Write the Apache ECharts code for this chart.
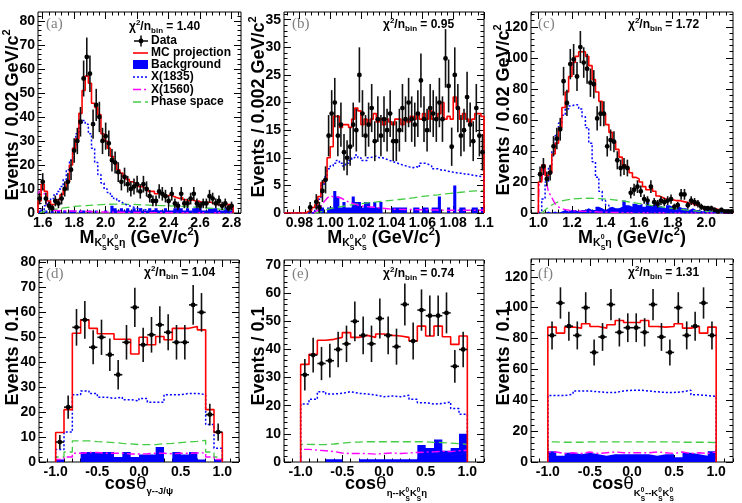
<!DOCTYPE html>
<html>
<head>
<meta charset="utf-8">
<script src="https://cdn.jsdelivr.net/npm/echarts@6.0.0/dist/echarts.min.js"></script>
<style>
  html, body { margin: 0; padding: 0; background: #fff; }
  #chart { width: 742px; height: 503px; }
</style>
</head>
<body>
<div id="chart"></div>
<script>
// ---- panel (a): M(KsKs eta), bins of 0.02 starting at 1.57
var aBinStart = 1.57, aBinWidth = 0.02;
var aData = [6,13,6,3,2,5,4,6,10,13, 18,26,30,38,56,65,58,37,45,40, 30,32,29,22,21,17,13,15,12,10,
             11,12,9,12,10,7,5,5,9,8, 7,5,8,4,3,8,4,4,6,8, 4,3,4,4,7,6,4,5,3,4, 2,3];
var aMC = [5,12,9,5,3.5,4,5.5,7.6,10,13, 20,27,31,41.5,51,57,54,45.7,44,41, 33,30,27,23.5,21,18,16.6,15,14,13,
           12.5,12,11,10.5,10,9,9,8,8.5,8, 7,7.5,7,6.5,6,6.5,5.5,5,5.5,5, 5,4.5,4,4.5,4.5,4,3.5,3.5,3,3.5, 3.5,3];
var aBkg = [1,0,1,0,1,0,1,0,1,0, 1,1,0,1,1,0,1,0,1,0, 0,1,0,3,2,1,2,1,2,1, 2,1,2,1,1,2,1,2,1,1,
            2,1,1,2,3,2,1,2,1,2, 3,3,1,1,2,2,2,1,1,2, 3,3];
var aX1835 = [0.5,1.5,3,4.5,6,7.5,9,11,14,18, 22,27,33,37.5,38.5,37,33,27,21,16, 12.5,10,8.5,7,6,5,4.2,3.5,3,2.6,
              2.2,1.9,1.6,1.4,1.2,1,0.9,0.8,0.8,0.7, 0.7,0.6,0.6,0.5,0.5,0.5,0.4,0.4,0.4,0.4,
              0.3,0.3,0.3,0.3,0.3,0.3,0.2,0.2,0.2,0.2, 0.2,0.2];
var aX1560 = [[1.57,8],[1.58,9],[1.60,10],[1.61,8],[1.62,5],[1.64,2],[1.66,1.2],[1.70,1],[1.80,0.8],
              [1.90,0.6],[2.00,0.4],[2.20,0.2],[2.50,0.1],[2.80,0.1]];
var aPS = [[1.57,0],[1.60,0.5],[1.65,1.2],[1.70,1.8],[1.76,2.3],[1.80,2.7],[1.90,3.2],[2.00,3.6],[2.10,3.7],
           [2.20,3.5],[2.30,3.2],[2.40,3.0],[2.50,2.7],[2.60,2.3],[2.70,1.8],[2.80,1.2]];
var aTicksX = [1.6,1.8,2.0,2.2,2.4,2.6,2.8];
var aTicksY = [0,10,20,30,40,50,60,70,80];

// ---- panel (b): M(KsKs), bins of 0.002 starting at 0.970
var bBinStart = 0.970, bBinWidth = 0.002;
var bData = [0,0,0,0,0,0,0,0,1,0, 2,1,4,6,14,18,20,14,16,11, 10,12,16,15,25,18,14,16,19,13,
             17,14,17,15,18,13,13,15,19,17, 20,17,16,18,24,17,15,19,18,17, 20,17,28,23,12,25,19,14,15,21,
             16,13,19,14,11];
var bMC = [0,0,0,0,0,0,0,0.3,0.5,1, 1.5,3,5.5,6,10,12,17.5,17.5,15.5,16, 16,15.5,17,19,18.5,16,17,16,17,18,
           16.5,17,16,17,16.5,16,17,17,16,17, 16.5,17.5,17,18,17,18,17,18.5,17,17, 18,20,17,17.5,17,21,19,17,18,17,
           16.5,17,18,18,17.5];
var bBkg = [0,0,0,0,0,0,0,0,0,0, 0,1,1,0,1,1,4,3,1,2, 1,1,3,2,2,1,2,2,1,2, 1,2,0,0,0,1,1,1,1,1,
            0,0,1,1,0,1,1,0,1,1, 3,0,0,1,0,5,0,1,1,0, 0,1,1,0,1];
var bX1835 = [0,0,0,0,0,0,0,0,0,0, 1,2.5,5,6.5,8,8.5,9,9.5,9,8.5, 9,9.5,10,10.5,10,9.5,9.5,10,10.2,10.3,
              10,10,9.8,9.6,9.4,9.2,9,8.8,8.6,8.5, 8.3,8.2,8.4,8.2,9,9,8.8,8.5,8,8, 7.8,7.8,7.6,7.5,7.4,7.3,7.2,7.2,7,7,
              6.9,6.8,6.7,6.6,6.5];
var bX1560 = [[0.988,0],[0.992,0.5],[0.996,2],[1.000,3],[1.006,2.8],[1.012,2],[1.020,1.3],[1.030,1],
              [1.040,0.7],[1.060,0.6],[1.080,0.5],[1.100,0.5]];
var bPS = [[0.990,0],[0.995,0.3],[1.000,0.8],[1.010,1.3],[1.020,1.7],[1.030,2.0],[1.040,2.3],[1.050,2.6],
           [1.060,3.0],[1.070,3.3],[1.080,3.6],[1.090,3.9],[1.100,4.1]];
var bTicksX = [0.98,1.00,1.02,1.04,1.06,1.08,1.10];
var bTicksY = [0,5,10,15,20,25,30,35];

// ---- panel (c): M(Ks eta), bins of 0.02 starting at 1.00
var cBinStart = 1.00, cBinWidth = 0.02;
var cData = [25,30,22,26,43,48,54,85,71,96, 99,88,107,97,93,84,83,61,64,64, 43,47,46,34,29,30,29,13,15,17,
             14,9,8,17,7,6,8,7,8,9, 4,5,12,12,5,8,7,6,4,3, 3,3,2,1,2,1,1,1];
var cMC = [20,31,24,26,38,45,55,68,78,88, 97,101,104,104,101,95,86,78,72,64, 57,52,46,41,36,31,29,26,23,22,
           20,17,15,16,14,11,10,9,8,8.5, 8,8,7.5,7,6.5,6,5,4.5,4,3.5, 3,3,2.5,2,1.5,1.2,1,0.8];
var cBkg = [0,0,1,0,1,0,1,2,1,2, 2,1,2,2,3,2,2,4,3,2, 3,4,3,3,4,8,5,4,6,5, 6,4,7,5,6,5,4,3,5,4,
            3,4,3,3,2,3,2,2,1,2, 2,1,1,1,1,0,1,0];
var cX1835 = [1,9,20,30,40,50,58,63,67,69, 70,69.5,67,62,55,45,33,23,14,8, 5,3,2,1.5,1,0.8,0.7,0.6,0.5,0.5,
              0.5,0.4,0.4,0.4,0.4,0.3,0.3,0.3,0.3,0.3, 0.3,0.3,0.2,0.2,0.2,0.2,0.2,0.2,0.2,0.1,
              0.1,0.1,0.1,0.1,0.1,0.1,0.1,0.1];
var cX1560 = [[1.000,0],[1.005,18],[1.020,21],[1.030,30],[1.045,22],[1.060,14],[1.080,10],[1.100,6],
              [1.120,4],[1.150,2.5],[1.200,1.5],[1.300,1],[1.400,0.5],[1.600,0.2],[2.150,0]];
var cPS = [[1.02,0],[1.04,2],[1.07,4.5],[1.12,7.3],[1.20,9],[1.28,9.5],[1.36,9.3],[1.45,8.5],[1.55,7],
           [1.65,5.2],[1.75,3.6],[1.85,2.3],[1.95,1.2],[2.05,0.5],[2.15,0.1]];
var cTicksX = [1.0,1.2,1.4,1.6,1.8,2.0];
var cTicksY = [0,20,40,60,80,100,120];

// ---- panels (d), (e), (f): cos(theta), 20 bins of 0.1 from -1
var cosBinStart = -1.0, cosBinWidth = 0.1;
var cosTicksX = [-1.0,-0.5,0.0,0.5,1.0];

var dData = [8,22,54,57,46,50,43,35,48,62,47,51,55,52,48,48,63,60,19,12];
var dMC = [11.8,21,51.6,57,53.6,51.4,51.4,49.2,49.2,43.3,50,47,50.3,49,53.6,53.6,54.3,53,21,11.8];
var dBkg = [1,0,0,4,4,4,4,2,4,2,3,3,6,0,4,3,4,1,0,1];
var dX1835 = [5,12,27,28.5,27.5,26,25.5,26,25,24.5,25.5,24,24,27,27,27.5,27.5,27,15,5.5];
var dX1560 = [1,2,3.5,3.8,3.8,3.5,3.5,3.5,3.2,3.2,3.3,3.5,3.5,3.3,3.5,3.5,3.6,3.7,2,1];
var dPS = [2,4,8.5,8.5,8.2,8,7.8,7.5,7.3,7,7,7,7.3,7.5,7.8,8,8.3,8.7,4,2];
var dTicksY = [0,10,20,30,40,50,60,70,80];

var eData = [31,38,35,36,40,42,50,45,42,51,45,41,56,43,54,52,52,53,34,40];
var eMC = [34.7,38.3,43.3,43.6,44.3,46,44.3,45,44.3,45.5,45,44.8,44.3,43,48.3,44.8,48.3,44.5,41.8,44.8];
var eBkg = [0,0,0,1,1,0,0,1,1,1,1,1,1,1,6,5,8,4,5,10];
var eX1835 = [20.6,22.3,25,24.2,24.4,25,24.4,24.2,23.8,23.2,23.5,23.2,23.7,22.3,21.1,20.6,20.8,21.3,19,17];
var eX1560 = [4.5,4.2,4,3.7,3.2,3,3,3,2.8,3,3.2,3,3.2,3.4,3.5,3.6,3.8,3.7,4,4.2];
var ePS = [6.3,6.2,6.2,6.4,6.7,7,7.1,7.2,7.2,7.2,7.2,7.2,7.2,7.2,7.2,7,6.9,6.7,6.5,6.3];
var eTicksY = [0,10,20,30,40,50,60,70];

var fData = [82,103,88,82,100,71,81,102,84,87,87,84,102,81,71,100,82,88,103,82];
var fMC = [87.4,83.5,87.4,86.7,89.6,87.8,86.7,88.9,91.7,90.4,90.4,91.7,87.8,87.4,87.8,89.6,86.7,87.8,83.5,87.4];
var fBkg = [7,4,6,5,6,5,4,5,5,5,5,5,4,5,5,3,6,5,4,7];
var fX1835 = [43,43,44,46,46,45.5,45,45,46,46.5,46.5,46,45.5,45,45,45.5,46.5,43.5,43,42.5];
var fX1560 = [6.5,5.5,6,5.5,6.5,5.5,6,6.5,6,6,6,6,6.5,6,5.5,6.5,5.5,6,5.5,6.5];
var fPS = [13,12.8,12.8,12.8,13,13,13,13,13,13,13,13,13,13,13,12.8,12.8,12.8,12.8,12.5];
var fTicksY = [0,20,40,60,80,100,120];

var chi2Vals = ['1.40', '0.95', '1.72', '1.04', '0.74', '1.31'];
var legendNames = ['Data', 'MC projection', 'Background', 'X(1835)', 'X(1560)', 'Phase space'];

// ---- style
var SANS = "'Liberation Sans', Arial, Helvetica, sans-serif";
var SERIF = "'Liberation Serif', 'DejaVu Serif', serif";
var RED = '#ff0000', BLUE = '#0000ff', MAG = '#ff00ff', GRN = '#44cc44';
var DOT = [2, 2], DASHDOT = [8, 3, 2, 3], DASH = [8, 4];

var measureCtx = document.createElement('canvas').getContext('2d');
function textW(t, size, weight) {
    measureCtx.font = weight + ' ' + size + 'px ' + SANS;
    return measureCtx.measureText(t).width;
}
function piece(t, size, x, dy, weight) {
    return {
        type: 'text', x: x, y: dy - 0.35 * size,
        style: { text: t, font: weight + ' ' + size + 'px ' + SANS, fill: '#000', align: 'left', verticalAlign: 'middle' }
    };
}
// tokens: [text, level] or [up, down, 'st'] (stacked scripts on a subscript)
// style entries: [size, baseline offset, weight]
function mathText(tokens, st, x, y, center, rot) {
    var kids = [], cx = 0;
    tokens.forEach(function (tk) {
        if (tk[2] === 'st') {
            var s0 = st.st;
            kids.push(piece(tk[0], s0[0], cx, s0[1], 'bold'));
            kids.push(piece(tk[1], s0[0], cx, s0[2], 'bold'));
            cx += Math.max(textW(tk[0], s0[0], 'bold'), textW(tk[1], s0[0], 'bold'));
        } else {
            var s = st[tk[1]], wt = s[2] || 'bold';
            kids.push(piece(tk[0], s[0], cx, s[1], wt));
            cx += textW(tk[0], s[0], wt);
        }
    });
    if (center) kids.forEach(function (k) { k.x -= cx / 2; });
    return { type: 'group', x: x, y: y, rotation: rot || 0, children: kids };
}

function hist(x0, w, vals) {
    var p = [[x0, 0]];
    vals.forEach(function (v, i) { p.push([x0 + i * w, v]); p.push([x0 + (i + 1) * w, v]); });
    p.push([x0 + vals.length * w, 0]);
    return p;
}
function tickRange(lo, hi, step) {
    var out = [], n0 = Math.ceil(lo / step - 1e-6), n1 = Math.floor(hi / step + 1e-6);
    for (var n = n0; n <= n1; n++) out.push(+(n * step).toFixed(6));
    return out;
}

var topTitle = { n: [18, 0], b: [10.5, 3], p: [11, -8], st: [7, -4, 7] };
var dTitle = { n: [18, 0], t: [19, 0, 'normal'], b: [9.5, 4.5, 'bold'] };
var lowTitle = { n: [18, 0], t: [19, 0, 'normal'], b: [9.5, 7], st: [6.5, 2, 11] };
var yTitle = { n: [18, 0], p: [11, -8] };

var panels = [
    { grid: [38, 12, 203, 201], xr: [1.57, 2.86], yr: [0, 83.7], xt: aTicksX, yt: aTicksY, xm: 0.04, ym: 2,
      x0: aBinStart, w: aBinWidth, d: aData, mc: aMC, bg: aBkg, x35: aX1835, x60: aX1560, ps: aPS,
      xf: function (v) { return v.toFixed(1); },
      xtitle: [['M', 'n'], ['K', 'b'], ['0', 'S', 'st'], ['K', 'b'], ['0', 'S', 'st'], ['\u03b7', 'b'], [' (GeV/c', 'n'], ['2', 'p'], [')', 'n']],
      xtPos: [139.5, 244], tstyle: topTitle, ytitle: 'Events / 0.02 GeV/c', ytPos: [19, 115],
      letter: '(a)', lPos: [46, 24.5], chiPos: [129, 31] },
    { grid: [284, 12, 200, 201], xr: [0.97, 1.10], yr: [0, 36.4], xt: bTicksX, yt: bTicksY, xm: 0.004, ym: 1,
      x0: bBinStart, w: bBinWidth, d: bData, mc: bMC, bg: bBkg, x35: bX1835, x60: bX1560, ps: bPS,
      xf: function (v) { return Math.abs(v - 1.1) < 1e-9 ? '1.1' : v.toFixed(2); },
      xtitle: [['M', 'n'], ['K', 'b'], ['0', 'S', 'st'], ['K', 'b'], ['0', 'S', 'st'], [' (GeV/c', 'n'], ['2', 'p'], [')', 'n']],
      xtPos: [384, 244], tstyle: topTitle, ytitle: 'Events / 0.002 GeV/c', ytPos: [265, 107],
      letter: '(b)', lPos: [292, 24.5], chiPos: [383, 28.5] },
    { grid: [531, 12, 202, 201], xr: [0.956, 2.159], yr: [0, 129.6], xt: cTicksX, yt: cTicksY, xm: 0.04, ym: 4,
      x0: cBinStart, w: cBinWidth, d: cData, mc: cMC, bg: cBkg, x35: cX1835, x60: cX1560, ps: cPS,
      xf: function (v) { return v.toFixed(1); },
      xtitle: [['M', 'n'], ['K', 'b'], ['0', 'S', 'st'], ['\u03b7', 'b'], [' (GeV/c', 'n'], ['2', 'p'], [')', 'n']],
      xtPos: [632, 244], tstyle: topTitle, ytitle: 'Events / 0.02 GeV/c', ytPos: [510, 110],
      letter: '(c)', lPos: [538, 24.5], chiPos: [628, 28.5] },
    { grid: [39, 260, 200, 202], xr: [-1.2, 1.2], yr: [0, 81], xt: cosTicksX, yt: dTicksY, xm: 0.1, ym: 2,
      x0: cosBinStart, w: cosBinWidth, d: dData, mc: dMC, bg: dBkg, x35: dX1835, x60: dX1560, ps: dPS,
      xf: function (v) { return v.toFixed(1); },
      xtitle: [['cos', 'n'], ['\u03b8', 't'], ['\u03b3--J/\u03c8', 'b']],
      xtPos: [139, 490], tstyle: dTitle, ytitle: 'Events / 0.1', ytPos: [19, 356],
      letter: '(d)', lPos: [46, 274], chiPos: [144, 277] },
    { grid: [284, 260, 200, 202], xr: [-1.2, 1.2], yr: [0, 71.8], xt: cosTicksX, yt: eTicksY, xm: 0.1, ym: 2,
      x0: cosBinStart, w: cosBinWidth, d: eData, mc: eMC, bg: eBkg, x35: eX1835, x60: eX1560, ps: ePS,
      xf: function (v) { return v.toFixed(1); },
      xtitle: [['cos', 'n'], ['\u03b8', 't'], ['\u03b7--K', 'b'], ['0', 'S', 'st'], ['K', 'b'], ['0', 'S', 'st'], ['\u03b7', 'b']],
      xtPos: [386, 490], tstyle: lowTitle, ytitle: 'Events / 0.1', ytPos: [265.5, 356],
      letter: '(e)', lPos: [292, 274], chiPos: [383, 278] },
    { grid: [531, 259, 202, 203], xr: [-1.2, 1.2], yr: [0, 131.5], xt: cosTicksX, yt: fTicksY, xm: 0.1, ym: 4,
      x0: cosBinStart, w: cosBinWidth, d: fData, mc: fMC, bg: fBkg, x35: fX1835, x60: fX1560, ps: fPS,
      xf: function (v) { return v.toFixed(1); },
      xtitle: [['cos', 'n'], ['\u03b8', 't'], ['K', 'b'], ['0', 'S', 'st'], ['--K', 'b'], ['0', 'S', 'st'], ['K', 'b'], ['0', 'S', 'st']],
      xtPos: [633, 490], tstyle: lowTitle, ytitle: 'Events / 0.1', ytPos: [510.5, 356],
      letter: '(f)', lPos: [538, 274], chiPos: [628, 277] }
];

var grids = [], xAxes = [], yAxes = [], series = [], graphics = [];
var labelStyle = { color: '#000', fontSize: 14, fontWeight: 'bold', fontFamily: SANS };

function curve(p, vals, color, dash, width, z) {
    var smooth = Array.isArray(vals[0]);
    return {
        type: 'line', xAxisIndex: p.ai, yAxisIndex: p.ai, data: smooth ? vals : hist(p.x0, p.w, vals),
        symbol: 'none', z: z, smooth: smooth ? 0.3 : false, silent: true,
        lineStyle: { color: color, width: width, type: dash || 'solid' }
    };
}
// four tick sets per direction: major/minor on both sides of the frame
function axisSet(i, range, major, minorStep, fmt, sides) {
    var out = [];
    var minor = tickRange(range[0], range[1], minorStep);
    sides.forEach(function (side, s) {
        [major, minor].forEach(function (vals, m) {
            out.push({
                type: 'value', gridIndex: i, position: side, min: range[0], max: range[1],
                splitLine: { show: false }, axisLine: { show: false, onZero: false },
                axisTick: { inside: true, length: m ? 3.5 : 7, customValues: vals, lineStyle: { color: '#000' } },
                axisLabel: (s === 0 && m === 0)
                    ? Object.assign({ customValues: major, formatter: fmt, margin: 3 }, labelStyle)
                    : { show: false }
            });
        });
    });
    return out;
}

panels.forEach(function (p, i) {
    p.ai = 4 * i;
    grids.push({ left: p.grid[0], top: p.grid[1], width: p.grid[2], height: p.grid[3],
                 show: true, borderColor: '#000', borderWidth: 1, backgroundColor: 'transparent' });
    xAxes = xAxes.concat(axisSet(i, p.xr, p.xt, p.xm, p.xf, ['bottom', 'top']));
    yAxes = yAxes.concat(axisSet(i, p.yr, p.yt, p.ym, null, ['left', 'right']));

    // background: filled histogram
    series.push({
        type: 'line', xAxisIndex: p.ai, yAxisIndex: p.ai, data: hist(p.x0, p.w, p.bg), symbol: 'none', z: 2,
        lineStyle: { width: 0 }, areaStyle: { color: BLUE, opacity: 1 }, silent: true
    });
    series.push(curve(p, p.ps, GRN, DASH, 1.3, 3));
    series.push(curve(p, p.x60, MAG, DASHDOT, 1.4, 4));
    series.push(curve(p, p.x35, BLUE, DOT, 1.5, 5));
    series.push(curve(p, p.mc, RED, 'solid', 1.6, 6));

    // data points with sqrt(N) error bars and bin-width horizontal bars
    var pts = [];
    p.d.forEach(function (v, k) { if (v > 0) pts.push([p.x0 + (k + 0.5) * p.w, v]); });
    series.push({
        type: 'custom', xAxisIndex: p.ai, yAxisIndex: p.ai, data: pts, z: 10, silent: true,
        renderItem: function (params, api) {
            var x = api.value(0), y = api.value(1), e = Math.sqrt(y);
            var c = api.coord([x, y]), t = api.coord([x, y + e]), b = api.coord([x, Math.max(0, y - e)]);
            var l = api.coord([x - p.w / 2, y]), r = api.coord([x + p.w / 2, y]);
            var st = { stroke: '#111', lineWidth: 1.6 };
            return { type: 'group', children: [
                { type: 'line', shape: { x1: c[0], y1: t[1], x2: c[0], y2: b[1] }, style: st },
                { type: 'line', shape: { x1: l[0], y1: c[1], x2: r[0], y2: c[1] }, style: st },
                { type: 'circle', shape: { cx: c[0], cy: c[1], r: 2.4 }, style: { fill: '#000' } }
            ] };
        }
    });

    // titles and labels
    graphics.push(mathText(p.xtitle, p.tstyle, p.xtPos[0], p.xtPos[1], true, 0));
    var yt = p.ytitle.indexOf('GeV') >= 0 ? [[p.ytitle, 'n'], ['2', 'p']] : [[p.ytitle, 'n']];
    graphics.push(mathText(yt, yTitle, p.ytPos[0], p.ytPos[1], true, Math.PI / 2));
    graphics.push({ type: 'text', x: p.lPos[0], y: p.lPos[1],
                    style: { text: p.letter, font: '15px ' + SERIF, fill: '#808080', align: 'left', verticalAlign: 'middle' } });
    graphics.push(mathText([['\u03c7', 'n'], ['2', 'p'], ['/n', 'n'], ['bin', 'b'], [' = ' + chi2Vals[i], 'n']],
                           { n: [12, 0], p: [8, -5], b: [8, 3] }, p.chiPos[0], p.chiPos[1], false, 0));
});

// legend of panel (a)
var legY = [41, 53, 64.5, 77, 89.5, 102];
var legStyles = [
    null,
    { stroke: RED, lineWidth: 1.6 },
    null,
    { stroke: BLUE, lineWidth: 1.5, lineDash: DOT },
    { stroke: MAG, lineWidth: 1.4, lineDash: DASHDOT },
    { stroke: GRN, lineWidth: 1.3, lineDash: DASH }
];
legendNames.forEach(function (name, k) {
    var y = legY[k];
    if (k === 0) {
        graphics.push({ type: 'line', shape: { x1: 134, y1: y, x2: 148, y2: y }, style: { stroke: '#111', lineWidth: 1.6 } });
        graphics.push({ type: 'line', shape: { x1: 141, y1: y - 5.5, x2: 141, y2: y + 5.5 }, style: { stroke: '#111', lineWidth: 1.6 } });
        graphics.push({ type: 'circle', shape: { cx: 141, cy: y, r: 2.4 }, style: { fill: '#000' } });
    } else if (k === 2) {
        graphics.push({ type: 'rect', shape: { x: 133, y: y - 4.5, width: 15, height: 9 }, style: { fill: BLUE } });
    } else {
        graphics.push({ type: 'line', shape: { x1: 133, y1: y, x2: 148, y2: y }, style: legStyles[k] });
    }
    graphics.push({ type: 'text', x: 151, y: y,
                    style: { text: name, font: 'bold 12px ' + SANS, fill: '#000', align: 'left', verticalAlign: 'middle' } });
});

var chart = echarts.init(document.getElementById('chart'), null, { renderer: 'canvas' });
chart.setOption({
    animation: false,
    backgroundColor: '#fff',
    grid: grids,
    xAxis: xAxes,
    yAxis: yAxes,
    series: series,
    graphic: graphics
});
</script>
</body>
</html>
